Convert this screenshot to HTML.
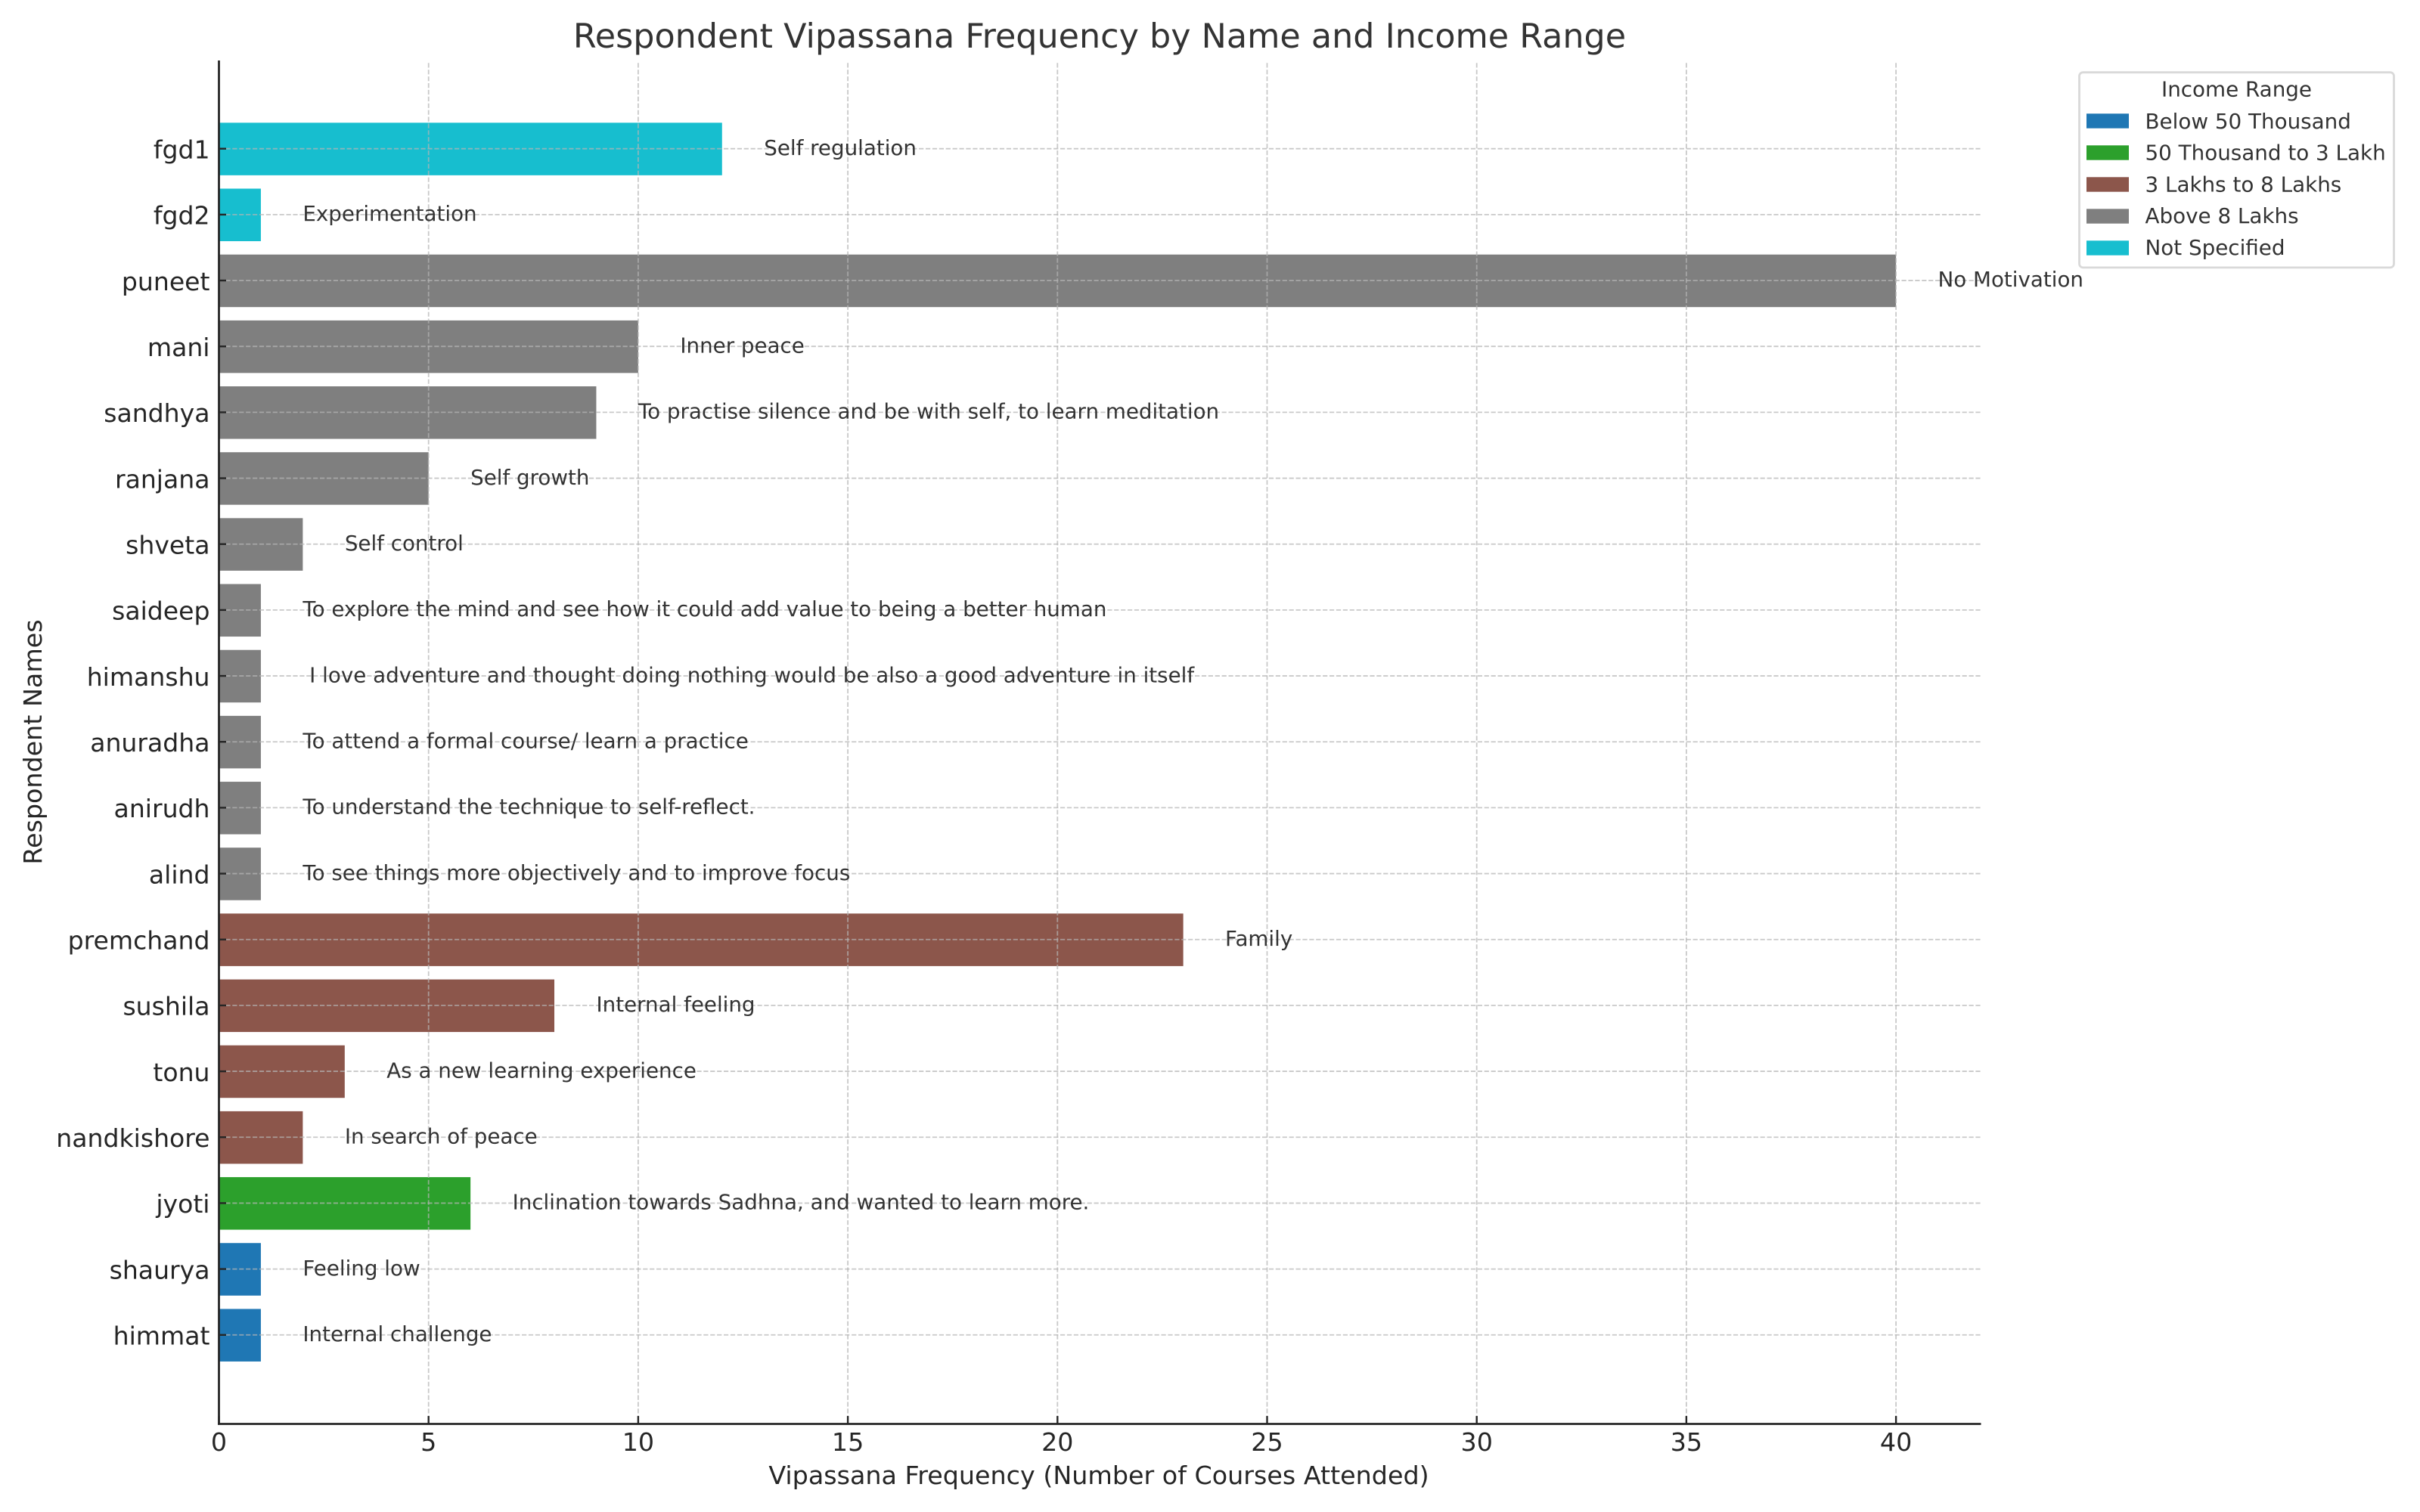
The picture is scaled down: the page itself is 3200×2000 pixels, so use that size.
<!DOCTYPE html>
<html lang="en">
<head>
<meta charset="utf-8">
<title>Respondent Vipassana Frequency by Name and Income Range</title>
<style>
html,body{margin:0;padding:0;background:#fff;width:3200px;height:2000px;overflow:hidden}
svg{display:block}
text{font-family:"DejaVu Sans","Liberation Sans",sans-serif;white-space:pre}
</style>
</head>
<body>
<svg id="chart" xmlns="http://www.w3.org/2000/svg" width="3200" height="2000" viewBox="0 0 3200 2000">
  <rect x="0" y="0" width="3200" height="2000" fill="#ffffff"/>
  <text x="1454" y="63" text-anchor="middle" font-size="44.44" fill="#333333">Respondent Vipassana Frequency by Name and Income Range</text>
  <text x="1453" y="1963" text-anchor="middle" font-size="33.33" fill="#262626">Vipassana Frequency (Number of Courses Attended)</text>
  <text transform="translate(55 981.5) rotate(-90)" text-anchor="middle" font-size="33.33" fill="#262626">Respondent Names</text>
  <g id="bars"></g>
  <g id="grid"></g>
  <g id="annotations"></g>
  <g id="yticks"></g>
  <g id="xticks"></g>
  <line x1="289.5" y1="80" x2="289.5" y2="1884.5" stroke="#262626" stroke-width="2.8"/>
  <line x1="288" y1="1883.5" x2="2619.5" y2="1883.5" stroke="#262626" stroke-width="2.8"/>
  <g id="legend">
    <rect x="2749.5" y="95.7" width="416" height="258.2" rx="5" ry="5" fill="#ffffff" stroke="#d9d9d9" stroke-width="2.8"/>
    <text x="2957.5" y="127.7" text-anchor="middle" font-size="27.78" fill="#333333">Income Range</text>
  </g>
</svg>
<script>
var categories = ["fgd1","fgd2","puneet","mani","sandhya","ranjana","shveta","saideep","himanshu","anuradha","anirudh","alind","premchand","sushila","tonu","nandkishore","jyoti","shaurya","himmat"];
var frequencies = [12,1,40,10,9,5,2,1,1,1,1,1,23,8,3,2,6,1,1];
var incomeRanges = ["Not Specified","Not Specified","Above 8 Lakhs","Above 8 Lakhs","Above 8 Lakhs","Above 8 Lakhs","Above 8 Lakhs","Above 8 Lakhs","Above 8 Lakhs","Above 8 Lakhs","Above 8 Lakhs","Above 8 Lakhs","3 Lakhs to 8 Lakhs","3 Lakhs to 8 Lakhs","3 Lakhs to 8 Lakhs","3 Lakhs to 8 Lakhs","50 Thousand to 3 Lakh","Below 50 Thousand","Below 50 Thousand"];
var motivations = ["Self regulation","Experimentation","No Motivation","Inner peace","To practise silence and be with self, to learn meditation","Self growth","Self control","To explore the mind and see how it could add value to being a better human"," I love adventure and thought doing nothing would be also a good adventure in itself","To attend a formal course/ learn a practice","To understand the technique to self-reflect.","To see things more objectively and to improve focus","Family","Internal feeling","As a new learning experience","In search of peace","Inclination towards Sadhna, and wanted to learn more.","Feeling low","Internal challenge"];
var xTickValues = [0,5,10,15,20,25,30,35,40];
var legendLabels = ["Below 50 Thousand","50 Thousand to 3 Lakh","3 Lakhs to 8 Lakhs","Above 8 Lakhs","Not Specified"];
var legendColors = ["#1f77b4","#2ca02c","#8c564b","#7f7f7f","#17becf"];

var NS = "http://www.w3.org/2000/svg";
var PLOT_LEFT = 289.5, PLOT_RIGHT = 2619.5, PLOT_TOP = 80, PLOT_BOTTOM = 1883.5;
var X_UNIT = 55.44, ROW_FIRST = 196.7, ROW_STEP = 87.17, BAR_HEIGHT = 69.5, BAR_SHIFT = 0.4;

function xScale(v) { return PLOT_LEFT + v * X_UNIT; }
function yScale(i) { return ROW_FIRST + i * ROW_STEP; }
function colorFor(label) { return legendColors[legendLabels.indexOf(label)]; }
function slug(s) { return s.trim().toLowerCase().replace(/[^a-z0-9]+/g, "-"); }
function make(tag, parent, attrs, content) {
  var el = document.createElementNS(NS, tag);
  for (var k in attrs) el.setAttribute(k, attrs[k]);
  if (content !== undefined) el.textContent = content;
  parent.appendChild(el);
  return el;
}

var barsG = document.getElementById("bars");
var gridG = document.getElementById("grid");
var annG = document.getElementById("annotations");
var yG = document.getElementById("yticks");
var xG = document.getElementById("xticks");
var legendG = document.getElementById("legend");
var gridStyle = {stroke:"#b4b4b4","stroke-opacity":0.72,"stroke-width":1.8,"stroke-dasharray":"6.2 2.7"};
function gridLine(x1, y1, x2, y2) {
  var a = {x1:x1,y1:y1,x2:x2,y2:y2};
  for (var k in gridStyle) a[k] = gridStyle[k];
  return make("line", gridG, a);
}

categories.forEach(function (name, i) {
  var yc = yScale(i);
  var bar = make("rect", barsG, {x:xScale(0), y:yc + BAR_SHIFT - BAR_HEIGHT / 2, width:xScale(frequencies[i]) - xScale(0), height:BAR_HEIGHT, fill:colorFor(incomeRanges[i])});
  
  

  var hg = gridLine(PLOT_LEFT, yc, PLOT_RIGHT, yc);
  
  

  var tick = make("line", yG, {x1:PLOT_LEFT, y1:yc, x2:PLOT_LEFT + 9.5, y2:yc, stroke:"#262626", "stroke-width":2.4});
  
  

  var lab = make("text", yG, {x:277.5, y:yc + 12.8, "text-anchor":"end", "font-size":33.1, fill:"#262626"}, name);
  
  

  var ann = make("text", annG, {x:xScale(frequencies[i] + 1), y:yc + 8.2, "font-size":27.72, fill:"#333333"}, motivations[i]);
  
  
});

xTickValues.forEach(function (v) {
  var x = xScale(v);
  var vg = gridLine(x, PLOT_TOP + 3.3, x, PLOT_BOTTOM);
  
  

  var tick = make("line", xG, {x1:x, y1:PLOT_BOTTOM, x2:x, y2:PLOT_BOTTOM - 10.5, stroke:"#262626", "stroke-width":2.4});
  
  

  var lab = make("text", xG, {x:x, y:1919, "text-anchor":"middle", "font-size":33.33, fill:"#262626"}, String(v));
  
  
});

legendLabels.forEach(function (label, i) {
  var g = make("g", legendG, {});
  
  

  var sw = make("rect", g, {x:2759, y:150.3 + i * 42, width:56, height:19.4, fill:legendColors[i]});
  
  

  var t = make("text", g, {x:2836.5, y:169.8 + i * 41.8, "font-size":27.78, fill:"#333333"}, label);
  
  
});
</script>
</body>
</html>
